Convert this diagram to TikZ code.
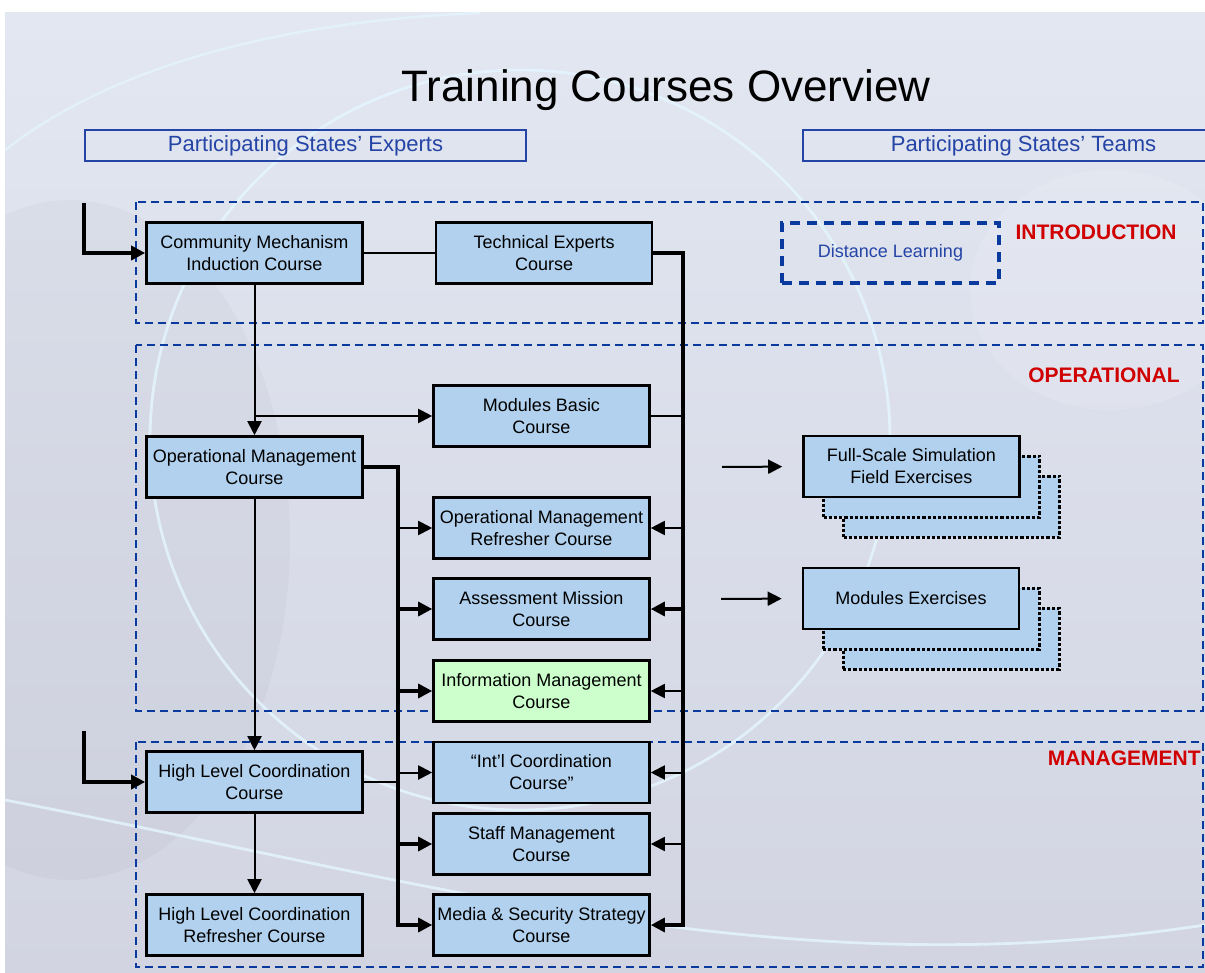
\documentclass[tikz,border=0pt]{standalone}
\usepackage{fontspec}
\setmainfont{Liberation Sans}
\usetikzlibrary{positioning,arrows.meta}
\definecolor{coursefill}{HTML}{B1D1EE}
\definecolor{infofill}{HTML}{CCFFCC}
\definecolor{bandline}{HTML}{0B3A9E}
\definecolor{headline}{HTML}{2444A6}
\definecolor{tagred}{HTML}{D00000}
\definecolor{bgtop}{HTML}{E2E7F1}
\definecolor{bgbottom}{HTML}{D2D4E2}
\definecolor{glint}{HTML}{E4F6FF}

\begin{document}
\begin{tikzpicture}[
  x=0.5pt, y=-0.5pt,
  font=\fontsize{9}{11}\selectfont,
  course/.style={draw=black, line width=1.3pt, fill=coursefill, align=center,
                 inner sep=1pt, minimum width=108pt, minimum height=30.5pt},
  info/.style={course, fill=infofill},
  ghost/.style={course, line width=1.5pt, dash pattern=on 1.6pt off 1pt},
  distbox/.style={draw=bandline, line width=2pt, dash pattern=on 5pt off 3.5pt,
                  text=headline, minimum width=108.5pt, minimum height=30pt},
  head/.style={draw=headline, line width=0.8pt, text=headline, inner sep=0pt,
               font=\fontsize{11}{13}\selectfont, minimum width=220.5pt, minimum height=15.5pt},
  band/.style={draw=bandline, line width=1pt, dash pattern=on 4pt off 2.5pt},
  tag/.style={text=tagred, font=\bfseries\fontsize{10.5}{12}\selectfont, inner sep=0pt},
  link/.style={line width=1pt},
  bus/.style={line width=1.6pt},
  tip/.style={-{Triangle[length=7pt,width=7pt]}},
  arr/.style={link, tip},
  barr/.style={bus, tip},
  entry/.style={line width=1.75pt, tip}
]
% ================= backdrop =================
\useasboundingbox (0,0) rectangle (1205,973);
\shade[top color=bgtop, bottom color=bgbottom] (5,13) rectangle (1205,973);
\begin{scope}
  \clip (5,13) rectangle (1205,973);
  \fill[black, opacity=0.025] (70,540) ellipse [x radius=110pt, y radius=170pt];
  \fill[white, opacity=0.12] (1110,290) ellipse [x radius=70pt, y radius=60pt];
  \draw[glint, line width=1.4pt, opacity=0.8] (520,440) circle [radius=185pt];
  \draw[glint, line width=1.4pt, opacity=0.8]
    (5,800) .. controls (420,880) and (780,990) .. (1205,925);
  \draw[glint, line width=1.2pt, opacity=0.7]
    (5,150) .. controls (120,60) and (300,20) .. (480,13);
\end{scope}

% ================= title and column heads =================
\node[font=\fontsize{22}{26}\selectfont, anchor=base] (title) at (666,102)
  {Training Courses Overview};
\node[head] (hdExperts) at (305.5,145.5) {Participating States’ Experts};
\node[head] (hdTeams)   at (1023.5,145.5) {Participating States’ Teams};

% ================= section bands =================
\draw[band] (136,202) rectangle (1203,323);
\draw[band] (136,345) rectangle (1203,711);
\draw[band] (136,742) rectangle (1203,967);
\node[tag, anchor=base east] (tagIntro) at (1177,240) {INTRODUCTION};
\node[tag, anchor=base east] (tagOper)  at (1180,382) {OPERATIONAL};
\node[tag, anchor=base east] (tagMgmt)  at (1201,765) {MANAGEMENT};

% ================= experts' courses =================
\node[course] (cmi) at (254.5,253) {Community Mechanism\\Induction Course};
\node[course, right=35.5pt of cmi] (tec) {Technical Experts\\Course};
\node[course] (mbc) at (541.5,416) {Modules Basic\\Course};
\node[course] (omc) at (254.5,467) {Operational Management\\Course};
\node[course] (omr) at (541.5,528) {Operational Management\\Refresher Course};
\node[course] (amc) at (541.5,609) {Assessment Mission\\Course};
\node[info]   (imc) at (541.5,691) {Information Management\\Course};
\node[course] (icc) at (541.5,772.5) {“Int’l Coordination\\Course”};
\node[course] (smc) at (541.5,844) {Staff Management\\Course};
\node[course] (msc) at (541.5,925) {Media \& Security Strategy\\Course};
\node[course] (hlc) at (254.5,782) {High Level Coordination\\Course};
\node[course] (hlr) at (254.5,925) {High Level Coordination\\Refresher Course};

% ================= teams' exercises (stacked) =================
\node[distbox] (dl) at (890.5,253) {Distance Learning};
\node[ghost] (fse3) at (951.5,506.5) {};
\node[ghost] (fse2) at (931.5,486.5) {};
\node[course] (fse) at (911.5,466.5) {Full-Scale Simulation\\Field Exercises};
\node[ghost] (mex3) at (951,638.5) {};
\node[ghost] (mex2) at (931,618.5) {};
\node[course] (mex) at (911,598.5) {Modules Exercises};
\coordinate (fseIn) at (722,467);
\coordinate (mexIn) at (721,599);
\draw[arr, shorten >=10pt] (fseIn) -- (fse.west);
\draw[arr, shorten >=10pt] (mexIn) -- (mex.west);

% ================= entry points =================
\coordinate (inCmi) at (84,203);
\coordinate (inHlc) at (84,731);
\draw[entry] (inCmi) |- (cmi.west);
\draw[entry] (inHlc) |- (hlc.west);

% ================= main path down the left column =================
\draw[link] (cmi.east) -- (tec.west);
\draw[arr] (cmi.south) -- (omc.north);
\draw[arr] (cmi.south |- mbc.west) -- (mbc.west);
\draw[arr] (omc.south) -- (hlc.north);
\draw[arr] (hlc.south) -- (hlr.north);

% ----- left bus: management courses feed the column -----
\coordinate (lbus) at (398,0);
\draw[barr] (omc.east) -| (lbus |- msc.west) -- (msc.west);
\draw[link] (hlc.east) -- (lbus |- hlc.east);
\foreach \t in {omr, icc}{\draw[arr] (lbus |- \t.west) -- (\t.west);}
\foreach \t in {amc, imc, smc}{\draw[barr] (lbus |- \t.west) -- (\t.west);}

% ----- right bus: technical and modules courses -----
\coordinate (rbus) at (683,0);
\draw[barr] (tec.east) -| (rbus |- msc.east) -- (msc.east);
\draw[link] (mbc.east) -- (rbus |- mbc.east);
\foreach \t in {omr, imc, icc, smc}{\draw[arr] (rbus |- \t.east) -- (\t.east);}
\draw[barr] (rbus |- amc.east) -- (amc.east);
\end{tikzpicture}
\end{document}
